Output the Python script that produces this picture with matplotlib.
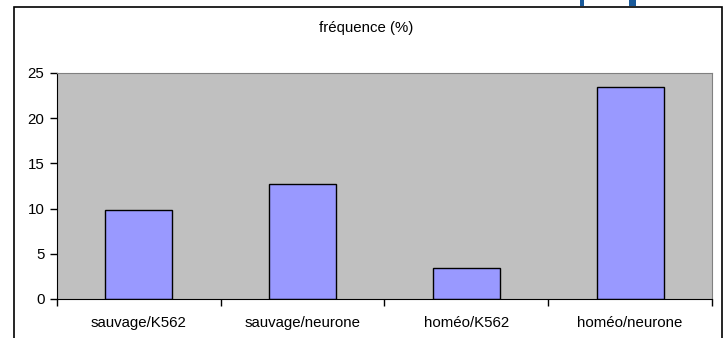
import matplotlib.pyplot as plt
from matplotlib.patches import Rectangle

plt.rcParams['font.family'] = ['Liberation Sans', 'DejaVu Sans']

categories = ["sauvage/K562", "sauvage/neurone", "homéo/K562", "homéo/neurone"]
values = [9.8, 12.7, 3.4, 23.4]
yticks = [0, 5, 10, 15, 20, 25]

W, H = 726, 338
fs = 10.8
fig = plt.figure(figsize=(W / 100, H / 100), dpi=100)

# outer chart frame (bottom edge runs off the image)
fig.patches.append(Rectangle((14 / W, -0.1), (722 - 14) / W, 1.1 - 7 / H,
                             transform=fig.transFigure, fill=False,
                             edgecolor='black', linewidth=1.2))
# bits of the blue logo peeking in at the top
for x0, w in [(580, 4), (629, 7)]:
    fig.patches.append(Rectangle((x0 / W, 1 - 6 / H), w / W, 6 / H,
                                 transform=fig.transFigure,
                                 facecolor='#1a5a9a', edgecolor='none'))

ax = fig.add_axes([57 / W, (H - 299) / H, (712 - 57) / W, (299 - 73) / H])
ax.set_facecolor('#c0c0c0')

x = range(len(categories))
ax.bar(x, values, width=0.41, color='#9999ff', edgecolor='black', linewidth=1)

ax.set_xlim(-0.5, len(categories) - 0.5)
ax.set_ylim(0, 25)
ax.set_yticks(yticks)
ax.set_yticklabels([str(v) for v in yticks], fontsize=fs)
ax.tick_params(axis='y', direction='out', length=5, width=1, pad=4)

ax.set_xticks([i - 0.5 for i in range(len(categories) + 1)])
ax.set_xticklabels([])
ax.tick_params(axis='x', which='major', direction='out', length=5, width=1)
ax.set_xticks(list(x), minor=True)
ax.set_xticklabels(categories, minor=True, fontsize=fs)
ax.tick_params(axis='x', which='minor', length=0, pad=12)

ax.spines['left'].set_color('black')
ax.spines['bottom'].set_color('black')
ax.spines['top'].set_color('#808080')
ax.spines['right'].set_color('#808080')

fig.text(366 / W, 1 - 28 / H, "fréquence (%)", ha='center', va='center', fontsize=fs)

fig.savefig("out.png", dpi=100)
